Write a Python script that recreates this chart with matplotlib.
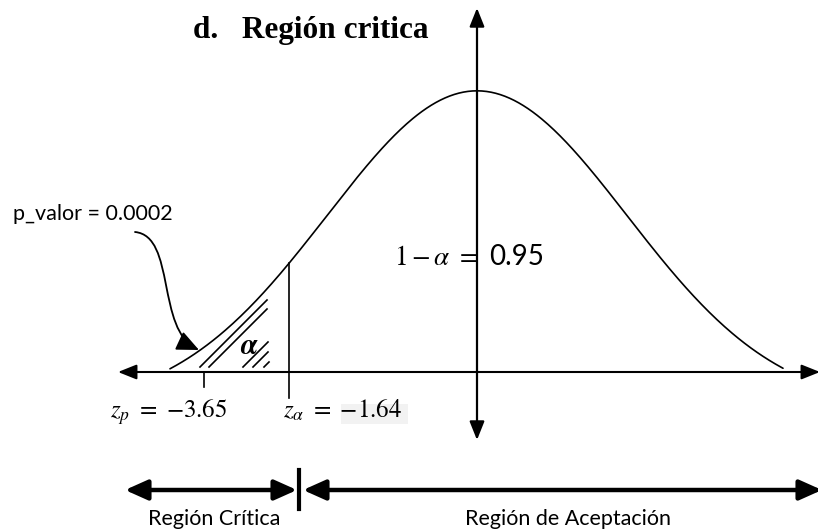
import numpy as np
import matplotlib
matplotlib.use("Agg")
import matplotlib.pyplot as plt
from matplotlib.patches import FancyArrowPatch, ArrowStyle, Rectangle
from matplotlib.path import Path

plt.rcParams['mathtext.fontset'] = 'stix'

# ---- values shown in the diagram ----
z_p = -3.65
z_alpha = -1.64
p_valor = 0.0002
conf = 0.95
title = "d.   Región critica"
region_labels = ["Región Crítica", "Región de Aceptación"]

# ---- layout (pixel space of the sketch) ----
W, H = 818, 531
cx, base_y = 477, 372          # centre of the bell and horizontal axis
peak_h, sigma, offset = 317, 150, 0.113
x_left, x_right = 170, 783
x_zp, x_za = 204, 289

fig = plt.figure(figsize=(W / 100, H / 100), dpi=100)
ax = fig.add_axes([0, 0, 1, 1])
ax.set_xlim(0, W)
ax.set_ylim(H, 0)
ax.axis('off')

def bell(x):
    return base_y - peak_h * (np.exp(-(x - cx) ** 2 / (2 * sigma ** 2)) - offset)

# bell curve
xs = np.linspace(x_left, x_right, 400)
ax.plot(xs, bell(xs), color='black', lw=1.2, solid_capstyle='round')

# axes with arrows
ax_style = ArrowStyle('<|-|>', head_length=0.75, head_width=0.3)
ax.add_patch(FancyArrowPatch((118, base_y), (820, base_y), arrowstyle=ax_style,
                             mutation_scale=15, lw=1.5, color='black',
                             shrinkA=0, shrinkB=0))
ax.add_patch(FancyArrowPatch((cx, 8), (cx, 440), arrowstyle=ax_style,
                             mutation_scale=15, lw=1.6, color='black',
                             shrinkA=0, shrinkB=0))

# critical value line and p tick
ax.plot([x_za, x_za], [bell(x_za), 398], color='black', lw=1.2)
ax.plot([x_zp, x_zp], [base_y, 387], color='black', lw=1.2)

# hatching of alpha area
for b, x_end in [(567, 267), (576, 267), (610, 268), (620, 268), (631, 269)]:
    x0 = b - 367
    hx = np.linspace(x0, x_end, 50)
    hy = np.maximum(-hx + b, bell(hx) + 3)
    ax.plot(hx, hy, color='black', lw=1.2)

ax.text(249, 346, r'$\boldsymbol{\alpha}$', fontsize=21, ha='center', va='center')

# p_valor label with curved arrow
ax.text(13, 220, f"p_valor = {p_valor}", fontsize=15.5, family='Lato',
        ha='left', va='baseline')
verts = [(135, 232), (176, 236), (156, 330), (199, 350)]
p = Path(verts, [Path.MOVETO, Path.CURVE4, Path.CURVE4, Path.CURVE4])
ax.add_patch(FancyArrowPatch(path=p, arrowstyle=ArrowStyle('-|>', head_length=0.85, head_width=0.38),
                             mutation_scale=16, lw=1.3, color='black',
                             shrinkA=0, shrinkB=0))

# 1 - alpha label
ax.text(479, 265, r'$1 - \alpha\ =$', fontsize=19.5, ha='right', va='baseline')
ax.text(489, 265, f"{conf}", fontsize=20, family='Lato', ha='left', va='baseline')

# z labels
ax.text(110, 418, rf'$z_p\ =\ {{{z_p}}}$', fontsize=18,
        ha='left', va='baseline')
ax.add_patch(Rectangle((341, 404), 67, 20, facecolor='#f2f2f2', edgecolor='none', zorder=0))
ax.text(283, 418, rf'$z_\alpha\ =\ {{{z_alpha}}}$', fontsize=18,
        ha='left', va='baseline')

# title
ax.text(193, 38, title, fontsize=22.5, family='Liberation Serif', weight='bold',
        ha='left', va='baseline')

# region arrows
reg_style = ArrowStyle('<|-|>', head_length=0.85, head_width=0.38)
ax.add_patch(FancyArrowPatch((125, 490), (297, 490), arrowstyle=reg_style,
                             mutation_scale=16, lw=3.2, color='black',
                             shrinkA=0, shrinkB=0))
ax.add_patch(FancyArrowPatch((303, 490), (822, 490), arrowstyle=reg_style,
                             mutation_scale=16, lw=3.2, color='black',
                             shrinkA=0, shrinkB=0))
ax.plot([299, 299], [470, 509], color='black', lw=3)

ax.text(214, 525, region_labels[0], fontsize=15.5, family='Lato', ha='center', va='baseline')
ax.text(568, 525, region_labels[1], fontsize=15.5, family='Lato', ha='center', va='baseline')

fig.savefig('out.png', dpi=100)
